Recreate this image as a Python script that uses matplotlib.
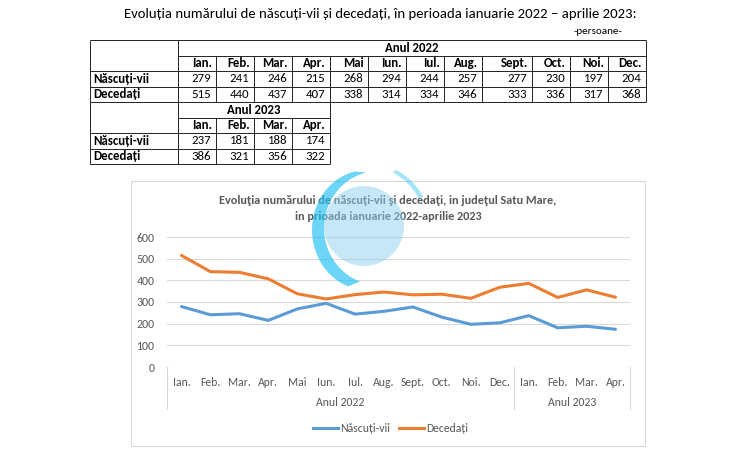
import matplotlib
matplotlib.use("Agg")
import matplotlib.pyplot as plt
from matplotlib.patches import Rectangle, Circle, Polygon
import numpy as np

plt.rcParams['font.family'] = ['Carlito', 'Lato', 'DejaVu Sans']

# ---------------- data ----------------
months_2022 = ['Ian.', 'Feb.', 'Mar.', 'Apr.', 'Mai', 'Iun.', 'Iul.', 'Aug.', 'Sept.', 'Oct.', 'Noi.', 'Dec.']
months_2023 = ['Ian.', 'Feb.', 'Mar.', 'Apr.']
nascuti_2022 = [279, 241, 246, 215, 268, 294, 244, 257, 277, 230, 197, 204]
decedati_2022 = [515, 440, 437, 407, 338, 314, 334, 346, 333, 336, 317, 368]
nascuti_2023 = [237, 181, 188, 174]
decedati_2023 = [386, 321, 356, 322]
series_names = ['Născuți-vii', 'Decedați']
year_labels = ['Anul 2022', 'Anul 2023']
y_ticks = [0, 100, 200, 300, 400, 500, 600]

W, H = 735, 459
fig = plt.figure(figsize=(W / 100, H / 100), dpi=100)
fig.patch.set_facecolor('white')

bg = fig.add_axes([0, 0, 1, 1])
bg.set_xlim(0, W)
bg.set_ylim(H, 0)
bg.axis('off')

# ---------------- page title ----------------
bg.text(380, 14, 'Evoluția numărului de născuți-vii și decedați, în perioada ianuarie 2022 – aprilie 2023:',
        ha='center', va='center', fontsize=10.6, color='black')
bg.text(622, 31, '-persoane-', ha='right', va='center', fontsize=8, color='black')

# ---------------- table ----------------
tc = '#222222'
tlw = 0.7
cols = [178, 216, 254, 292, 330, 368, 406, 444, 482, 532, 570, 608, 646]
rows = [40, 55.5, 71, 86.5, 102, 117.5, 133, 148.5, 164]
xl = 90
fs_t = 9.3

def hline(y, x0, x1):
    bg.plot([x0, x1], [y, y], color=tc, lw=tlw, solid_capstyle='butt')

def vline(x, y0, y1):
    bg.plot([x, x], [y0, y1], color=tc, lw=tlw, solid_capstyle='butt')

# block 2022
hline(rows[0], xl, cols[-1])
hline(rows[1], cols[0], cols[-1])
hline(rows[2], xl, cols[-1])
hline(rows[3], xl, cols[-1])
hline(rows[4], xl, cols[-1])
vline(xl, rows[0], rows[4])
vline(cols[0], rows[0], rows[4])
vline(cols[-1], rows[0], rows[4])
for c in cols[1:-1]:
    vline(c, rows[1], rows[4])
# block 2023
n23 = len(months_2023)
hline(rows[5], cols[0], cols[n23])
hline(rows[6], xl, cols[n23])
hline(rows[7], xl, cols[n23])
hline(rows[8], xl, cols[n23])
vline(xl, rows[4], rows[8])
vline(cols[0], rows[4], rows[8])
vline(cols[n23], rows[4], rows[8])
for c in cols[1:n23]:
    vline(c, rows[5], rows[8])

def rowc(i):
    return (rows[i] + rows[i + 1]) / 2

bg.text((cols[0] + cols[-1]) / 2, rowc(0), year_labels[0], ha='center', va='center', fontsize=fs_t, fontweight='bold')
bg.text((cols[0] + cols[n23]) / 2, rowc(4), year_labels[1], ha='center', va='center', fontsize=fs_t, fontweight='bold')
for i, m in enumerate(months_2022):
    bg.text(cols[i + 1] - 4, rowc(1), m, ha='right', va='center', fontsize=fs_t, fontweight='bold')
    bg.text(cols[i + 1] - 5, rowc(2), str(nascuti_2022[i]), ha='right', va='center', fontsize=fs_t)
    bg.text(cols[i + 1] - 5, rowc(3), str(decedati_2022[i]), ha='right', va='center', fontsize=fs_t)
for i, m in enumerate(months_2023):
    bg.text(cols[i + 1] - 4, rowc(5), m, ha='right', va='center', fontsize=fs_t, fontweight='bold')
    bg.text(cols[i + 1] - 5, rowc(6), str(nascuti_2023[i]), ha='right', va='center', fontsize=fs_t)
    bg.text(cols[i + 1] - 5, rowc(7), str(decedati_2023[i]), ha='right', va='center', fontsize=fs_t)
for r0 in (2, 6):
    bg.text(xl + 3, rowc(r0), series_names[0], ha='left', va='center', fontsize=fs_t, fontweight='bold')
    bg.text(xl + 3, rowc(r0 + 1), series_names[1], ha='left', va='center', fontsize=fs_t, fontweight='bold')

# ---------------- chart box ----------------
bg.add_patch(Rectangle((131, 181), 645 - 131, 446 - 181, fill=False, edgecolor='#D9D9D9', lw=0.8))
gray = '#595959'
bg.text(388, 200, 'Evoluţia numărului de născuţi-vii şi decedaţi, in judeţul Satu Mare,',
        ha='center', va='center', fontsize=8.8, fontweight='bold', color=gray)
bg.text(388, 216, 'in prioada ianuarie 2022-aprilie 2023',
        ha='center', va='center', fontsize=8.8, fontweight='bold', color=gray)

# ---------------- data axes ----------------
ax_l, ax_r, ax_t, ax_b = 167, 630, 237, 367
ax = fig.add_axes([ax_l / W, 1 - ax_b / H, (ax_r - ax_l) / W, (ax_b - ax_t) / H])
ax.patch.set_alpha(0)
months_all = months_2022 + months_2023
x = np.arange(len(months_all))
nascuti = nascuti_2022 + nascuti_2023
decedati = decedati_2022 + decedati_2023
ax.set_xlim(-0.5, len(months_all) - 0.5)
ax.set_ylim(0, 600)
for s in ax.spines.values():
    s.set_visible(False)
ax.set_yticks(y_ticks)
ax.set_yticklabels([str(v) for v in y_ticks])
ax.tick_params(axis='y', length=0, pad=9, labelsize=8.6, labelcolor=gray)
ax.set_xticks([])
for v in y_ticks:
    ax.axhline(v, color='#D9D9D9', lw=0.8, zorder=0)
ax.plot(x, nascuti, color='#5B9BD5', lw=2.2, solid_joinstyle='round', solid_capstyle='round', zorder=3)
ax.plot(x, decedati, color='#ED7D31', lw=2.2, solid_joinstyle='round', solid_capstyle='round', zorder=3)

trans = ax.get_xaxis_transform()
axh = ax_b - ax_t
for i, m in enumerate(months_all):
    ax.text(x[i], -15 / axh, m, transform=trans, ha='center', va='center', fontsize=8.5, color=gray, clip_on=False)
n22 = len(months_2022)
for xs in (-0.5, n22 - 0.5, len(months_all) - 0.5):
    ax.plot([xs, xs], [0, -42 / axh], transform=trans, color='#D9D9D9', lw=0.8, clip_on=False)
ax.text((n22 - 1) / 2, -36 / axh, year_labels[0], transform=trans, ha='center', va='center', fontsize=8.5, color=gray, clip_on=False)
ax.text(n22 + (len(months_2023) - 1) / 2, -36 / axh, year_labels[1], transform=trans, ha='center', va='center', fontsize=8.5, color=gray, clip_on=False)

# ---------------- legend ----------------
bg.plot([313, 338], [428, 428], color='#5B9BD5', lw=2.2)
bg.text(340, 428, series_names[0], ha='left', va='center', fontsize=8.5, color=gray)
bg.plot([399, 424], [428, 428], color='#ED7D31', lw=2.2)
bg.text(426, 428, series_names[1], ha='left', va='center', fontsize=8.5, color=gray)

# ---------------- watermark (approximation) ----------------
wm = fig.add_axes([0, 0, 1, 1])
wm.set_xlim(0, W)
wm.set_ylim(H, 0)
wm.axis('off')
wm.patch.set_alpha(0)
wm.add_patch(Circle((364, 226), 40, color='#8fd0ef', alpha=0.5, lw=0))
t1 = np.linspace(np.deg2rad(103), np.deg2rad(250), 70)
outer = np.c_[367 + 55 * np.cos(t1), 230 - 60 * np.sin(t1)]
t2 = np.linspace(np.deg2rad(250), np.deg2rad(103), 70)
inner = np.c_[379 + 55 * np.cos(t2), 228 - 57 * np.sin(t2)]
wm.add_patch(Polygon(np.vstack([outer, inner]), closed=True, color='#1fc0f5', alpha=0.65, lw=0))
t3 = np.linspace(np.deg2rad(62), np.deg2rad(28), 30)
arc_o = np.c_[365 + 66 * np.cos(t3), 228 - 66 * np.sin(t3)]
t4 = t3[::-1]
arc_i = np.c_[363 + 63 * np.cos(t4), 228 - 63 * np.sin(t4)]
wm.add_patch(Polygon(np.vstack([arc_o, arc_i]), closed=True, color='#1fc0f5', alpha=0.4, lw=0))

fig.savefig('out.png', dpi=100, facecolor='white')
